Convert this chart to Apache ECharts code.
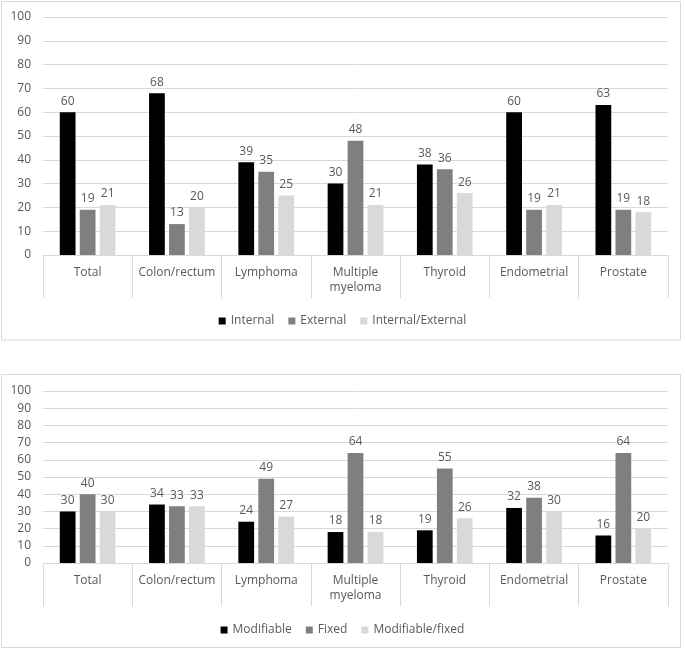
<!DOCTYPE html>
<html>
<head>
<meta charset="utf-8">
<script src="https://cdn.jsdelivr.net/npm/echarts@6/dist/echarts.min.js"></script>
<style>
html,body{margin:0;padding:0;background:#fff;}
#c{width:685px;height:649px;}
</style>
</head>
<body>
<div id="c"></div>
<script>
const categories = ['Total', 'Colon/rectum', 'Lymphoma', 'Multiple\nmyeloma', 'Thyroid', 'Endometrial', 'Prostate'];
const yTicks = [0, 100, 10];

const topNames = ['Internal', 'External', 'Internal/External'];
const internal = [60, 68, 39, 30, 38, 60, 63];
const external = [19, 13, 35, 48, 36, 19, 19];
const internalExternal = [21, 20, 25, 21, 26, 21, 18];

const bottomNames = ['Modifiable', 'Fixed', 'Modifiable/fixed'];
const modifiable = [30, 34, 24, 18, 19, 32, 16];
const fixed = [40, 33, 49, 64, 55, 38, 64];
const modifiableFixed = [30, 33, 27, 18, 26, 30, 20];

const colors = ['#000000', '#7f7f7f', '#d9d9d9'];
const FONT = 'Open Sans';
const TXT = '#595959';

function xAxis(idx) {
  return {
    type: 'category', gridIndex: idx, data: categories,
    axisLine: { show: true, lineStyle: { color: '#d9d9d9' } },
    axisTick: { show: true, length: 43, lineStyle: { color: '#d9d9d9' } },
    axisLabel: { color: TXT, fontFamily: FONT, fontSize: 12, margin: 10, interval: 0, verticalAlign: 'top', lineHeight: 15 }
  };
}
function yAxis(idx) {
  return {
    type: 'value', gridIndex: idx, min: yTicks[0], max: yTicks[1], interval: yTicks[2],
    axisLine: { show: false }, axisTick: { show: false },
    splitLine: { lineStyle: { color: '#d9d9d9' } },
    axisLabel: { color: TXT, fontFamily: FONT, fontSize: 12, margin: 12 }
  };
}
function bar(name, data, ci, idx) {
  return {
    name: name, type: 'bar', data: data, xAxisIndex: idx, yAxisIndex: idx,
    itemStyle: { color: colors[ci] },
    barGap: '27%', barCategoryGap: '37.6%',
    label: { show: true, position: 'top', distance: 5, color: TXT, fontFamily: FONT, fontSize: 12 }
  };
}

const chart = echarts.init(document.getElementById('c'), null, { renderer: 'canvas' });
chart.setOption({
  animation: false,
  textStyle: { fontFamily: FONT },
  graphic: [
    { type: 'rect', shape: { x: 1.5, y: 1.5, width: 679, height: 338.5 }, style: { fill: 'none', stroke: '#d9d9d9', lineWidth: 1 }, z: -1 },
    { type: 'rect', shape: { x: 1.5, y: 374.5, width: 679, height: 273 }, style: { fill: 'none', stroke: '#d9d9d9', lineWidth: 1 }, z: -1 }
  ],
  grid: [
    { left: 43, top: 17, width: 625, height: 238 },
    { left: 43, top: 391, width: 625, height: 172 }
  ],
  legend: [
    { data: topNames, top: 310, left: 'center', itemWidth: 7, itemHeight: 7, itemGap: 14, icon: 'rect',
      textStyle: { color: TXT, fontFamily: FONT, fontSize: 12 } },
    { data: bottomNames, top: 619, left: 'center', itemWidth: 7, itemHeight: 7, itemGap: 14, icon: 'rect',
      textStyle: { color: TXT, fontFamily: FONT, fontSize: 12 } }
  ],
  xAxis: [xAxis(0), xAxis(1)],
  yAxis: [yAxis(0), yAxis(1)],
  series: [
    bar(topNames[0], internal, 0, 0),
    bar(topNames[1], external, 1, 0),
    bar(topNames[2], internalExternal, 2, 0),
    bar(bottomNames[0], modifiable, 0, 1),
    bar(bottomNames[1], fixed, 1, 1),
    bar(bottomNames[2], modifiableFixed, 2, 1)
  ]
});
</script>
</body>
</html>
